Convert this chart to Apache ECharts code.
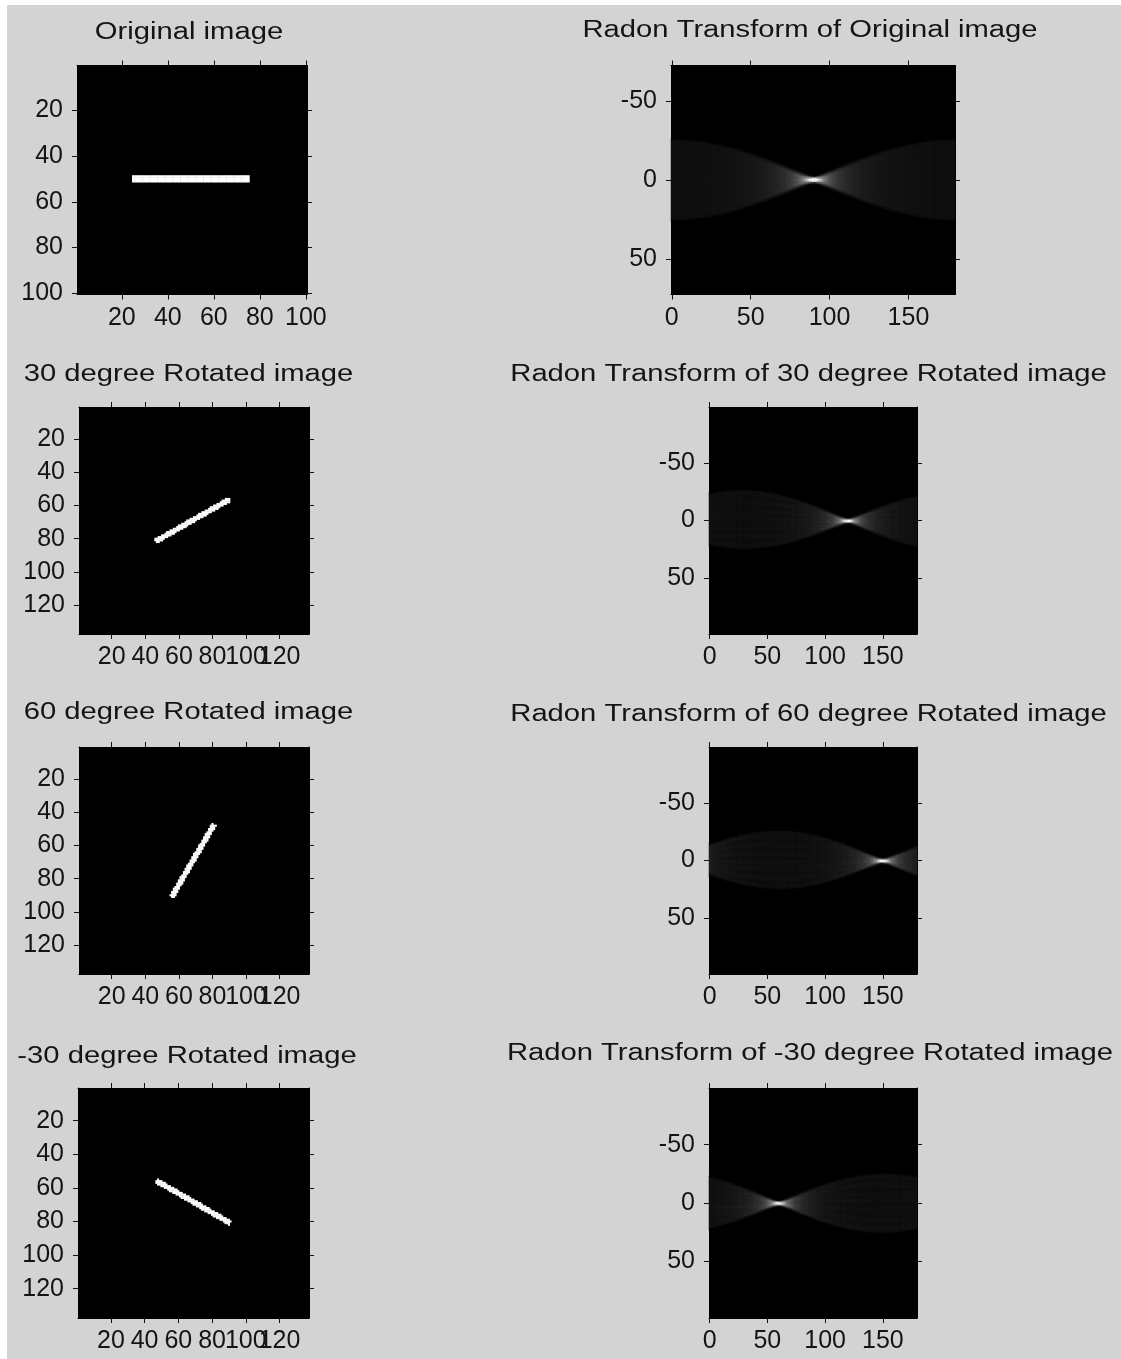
<!DOCTYPE html>
<html>
<head>
<meta charset="utf-8">
<title>Radon Transform of rotated images</title>
<script src="https://cdn.jsdelivr.net/npm/echarts@6/dist/echarts.min.js"></script>
<style>
  html, body { margin: 0; padding: 0; background: #ffffff; }
  #chart { width: 1121px; height: 1359px; }
</style>
</head>
<body>
<div id="chart"></div>
<script>
// ---- Source image: 100 x 100 black field with a 3-pixel white bar ----
const imageSize = 100;
const barRows = [49, 51];          // first / last row of the bar (1-based)
const barCols = [25, 75];          // first / last column of the bar (1-based)
const rotatedSize = 137;           // side of the loosely-cropped rotated image
const rotations = [0, 30, 60, -30];  // counter-clockwise rotation, degrees

// Projection angles of the transform (degrees)
const projectionAngles = [];
for (let t = 0; t < 180; t++) projectionAngles.push(t);

// Tick values
const ticksOriginal = [20, 40, 60, 80, 100];
const ticksRotated = [20, 40, 60, 80, 100, 120];
const ticksTheta = [0, 50, 100, 150];
const ticksOffset = [-50, 0, 50];

// Panel titles, left / right column per row
const leftTitles = ['Original image', '30 degree Rotated image', '60 degree Rotated image', '-30 degree Rotated image'];
const rightTitles = ['Radon Transform of Original image', 'Radon Transform of 30 degree Rotated image',
  'Radon Transform of 60 degree Rotated image', 'Radon Transform of -30 degree Rotated image'];

// ---- image helpers ----
function sourceImage() {
  const img = [];
  for (let r = 1; r <= imageSize; r++) {
    const row = [];
    for (let c = 1; c <= imageSize; c++) {
      row.push(r >= barRows[0] && r <= barRows[1] && c >= barCols[0] && c <= barCols[1] ? 1 : 0);
    }
    img.push(row);
  }
  return img;
}

// nearest-neighbour rotation about the image centre, loose output box
function rotateImage(img, deg) {
  if (deg === 0) return img;
  const n = img.length;
  const out = rotatedSize;
  const a = deg * Math.PI / 180, ca = Math.cos(a), sa = Math.sin(a);
  const cIn = (n + 1) / 2, cOut = (out + 1) / 2;
  const res = [];
  for (let i = 1; i <= out; i++) {
    const row = [];
    for (let j = 1; j <= out; j++) {
      const X = j - cOut, Y = -(i - cOut);
      const xin = X * ca + Y * sa;
      const yin = -X * sa + Y * ca;
      const c = Math.round(cIn + xin), r = Math.round(cIn - yin);
      row.push(r >= 1 && r <= n && c >= 1 && c <= n ? img[r - 1][c - 1] : 0);
    }
    res.push(row);
  }
  return res;
}

function pixelCells(img) {
  const cells = [];
  for (let r = 0; r < img.length; r++)
    for (let c = 0; c < img[r].length; c++)
      if (img[r][c]) cells.push([c + 1, r + 1, img[r][c]]);
  return cells;
}

// parallel-beam projections, each pixel split into four sub-pixels
function radonTransform(img, anglesDeg) {
  const M = img.length, N = img[0].length;
  const xOrigin = Math.max(0, Math.floor((N - 1) / 2));
  const yOrigin = Math.max(0, Math.floor((M - 1) / 2));
  const cM = Math.floor((M + 1) / 2), cN = Math.floor((N + 1) / 2);
  const rLast = Math.ceil(Math.sqrt((M - cM) * (M - cM) + (N - cN) * (N - cN))) + 1;
  const rFirst = -rLast, rSize = 2 * rLast + 1;
  const cells = [];
  let maxVal = 0;
  anglesDeg.forEach(function (deg) {
    const th = deg * Math.PI / 180, co = Math.cos(th), si = Math.sin(th);
    const col = new Float64Array(rSize + 2);
    for (let m = 0; m < M; m++) {
      for (let n = 0; n < N; n++) {
        const v = img[m][n];
        if (!v) continue;
        const x = n - xOrigin, y = yOrigin - m;
        const xs = [(x - 0.25) * co, (x + 0.25) * co];
        const ys = [(y + 0.25) * si, (y - 0.25) * si];
        for (let a = 0; a < 2; a++) for (let b = 0; b < 2; b++) {
          const r = xs[a] + ys[b] - rFirst;
          const r1 = Math.floor(r), d = r - r1;
          col[r1] += 0.25 * v * (1 - d);
          col[r1 + 1] += 0.25 * v * d;
        }
      }
    }
    for (let k = 0; k < rSize; k++) {
      if (col[k] > 1e-9) {
        cells.push([deg, rFirst + k, col[k]]);
        if (col[k] > maxVal) maxVal = col[k];
      }
    }
  });
  return { cells: cells, maxVal: maxVal, rLast: rLast };
}

// ---- layout of the eight axes ----
const rowTops = [65.5, 407, 747, 1088];
const rowHeights = [229, 227, 227, 230];
const leftBox = [{ left: 77, width: 230 }, { left: 79, width: 230 }, { left: 79, width: 230 }, { left: 78, width: 231 }];
const rightBox = [{ left: 671, width: 284 }, { left: 709, width: 208 }, { left: 709, width: 208 }, { left: 709, width: 208 }];
const leftTitlePos = [[189, 33], [188.5, 375], [188.5, 713], [187, 1057]];
const rightTitlePos = [[810, 31], [808.5, 375], [808.5, 715], [810, 1054]];

const tickFont = { fontFamily: 'Liberation Sans, Arial, sans-serif', fontSize: 25, color: '#141414' };

const grids = [], xAxes = [], yAxes = [], series = [], visualMaps = [], graphics = [];

function addGrid(box, top, height, visible) {
  grids.push({ left: box.left, top: top, width: box.width, height: height,
    show: visible, backgroundColor: '#000', borderWidth: 0, containLabel: false, outerBoundsMode: 'none' });
  return grids.length - 1;
}

// framed axis: labelled side plus a mirrored tick-only side; returns index of the labelled one
function addAxisPair(list, kind, gridIndex, range, ticks, labelValues, inverse) {
  const isX = kind === 'x';
  const base = {
    type: 'value', gridIndex: gridIndex, min: range[0], max: range[1], inverse: !!inverse,
    axisLine: { show: true, onZero: false, lineStyle: { color: '#000', width: 1 } },
    axisTick: { show: true, inside: false, length: 5, customValues: ticks, lineStyle: { color: '#111', width: 1 } },
    splitLine: { show: false }
  };
  list.push(Object.assign({}, base, {
    position: isX ? 'bottom' : 'left',
    axisLabel: Object.assign({ show: true, customValues: labelValues, margin: isX ? 11 : 14,
      showMinLabel: true, showMaxLabel: true, hideOverlap: false }, tickFont)
  }));
  const idx = list.length - 1;
  list.push(Object.assign({}, base, {
    position: isX ? 'top' : 'right',
    axisLabel: { show: false, customValues: ticks }
  }));
  return idx;
}

// labels only: a twin bottom axis carrying every other tick label, so packed labels all stay drawn
function addLabelTwin(box, top, height, range, labelValues) {
  const g = addGrid(box, top, height, false);
  xAxes.push({
    type: 'value', gridIndex: g, min: range[0], max: range[1], position: 'bottom',
    axisLine: { show: false, onZero: false }, axisTick: { show: false }, splitLine: { show: false },
    axisLabel: Object.assign({ show: true, customValues: labelValues, margin: 11,
      showMinLabel: true, showMaxLabel: true, hideOverlap: false }, tickFont)
  });
  yAxes.push({ type: 'value', gridIndex: g, show: false, min: 0, max: 1 });
}

function titleText(text, pos) {
  return {
    type: 'text', x: pos[0], y: pos[1], scaleX: 1.27, silent: true,
    style: { text: text, fontFamily: 'Liberation Sans, Arial, sans-serif', fontSize: 23,
      fill: '#141414', align: 'center', verticalAlign: 'middle' }
  };
}

function cellRenderer(fixedFill) {
  return function (params, api) {
    const x = api.value(0), y = api.value(1);
    const a = api.coord([x - 0.5, y - 0.5]);
    const b = api.coord([x + 0.5, y + 0.5]);
    const x0 = Math.min(a[0], b[0]), y0 = Math.min(a[1], b[1]);
    return {
      type: 'rect', silent: true,
      shape: { x: x0 - 0.2, y: y0 - 0.2, width: Math.abs(b[0] - a[0]) + 0.4, height: Math.abs(b[1] - a[1]) + 0.4 },
      style: { fill: fixedFill || api.visual('color') }
    };
  };
}

const src = sourceImage();

rotations.forEach(function (deg, row) {
  const img = rotateImage(src, deg);
  const size = img.length;
  const tr = radonTransform(img, projectionAngles);
  const ticks = size === imageSize ? ticksOriginal : ticksRotated;
  const packed = size !== imageSize;
  const imgRange = [0.5, size + 0.5];

  // left: the image
  const gL = addGrid(leftBox[row], rowTops[row], rowHeights[row], true);
  const xL = addAxisPair(xAxes, 'x', gL, imgRange, ticks,
    packed ? ticks.filter(function (v, i) { return i % 2 === 0; }) : ticks, false);
  const yL = addAxisPair(yAxes, 'y', gL, imgRange, ticks, ticks, true);
  series.push({
    type: 'custom', name: leftTitles[row], xAxisIndex: xL, yAxisIndex: yL,
    data: pixelCells(img), encode: { x: 0, y: 1 }, silent: true, animation: false,
    progressive: 0, progressiveThreshold: 1e9, z: 5,
    renderItem: cellRenderer('#ffffff')
  });
  if (packed) {
    addLabelTwin(leftBox[row], rowTops[row], rowHeights[row], imgRange,
      ticks.filter(function (v, i) { return i % 2 === 1; }));
  }

  // right: its transform
  const gR = addGrid(rightBox[row], rowTops[row], rowHeights[row], true);
  const xR = addAxisPair(xAxes, 'x', gR, [-0.5, 179.5], ticksTheta, ticksTheta, false);
  const yR = addAxisPair(yAxes, 'y', gR, [-tr.rLast - 0.5, tr.rLast + 0.5], ticksOffset, ticksOffset, true);
  visualMaps.push({ type: 'continuous', show: false, seriesIndex: series.length, dimension: 2,
    min: 0, max: tr.maxVal, inRange: { color: ['#000000', '#ffffff'] } });
  series.push({
    type: 'custom', name: rightTitles[row], xAxisIndex: xR, yAxisIndex: yR,
    data: tr.cells, encode: { x: 0, y: 1 }, silent: true, animation: false,
    progressive: 0, progressiveThreshold: 1e9, z: 5,
    renderItem: cellRenderer(null)
  });

  graphics.push(titleText(leftTitles[row], leftTitlePos[row]));
  graphics.push(titleText(rightTitles[row], rightTitlePos[row]));
});

// figure face, inset from the white page edge
graphics.unshift({ type: 'rect', silent: true, z: -100,
  shape: { x: 7, y: 5, width: 1114, height: 1354 }, style: { fill: '#d3d3d3' } });

const chart = echarts.init(document.getElementById('chart'), null, { renderer: 'canvas' });
chart.setOption({
  backgroundColor: '#ffffff',
  animation: false,
  hoverLayerThreshold: 1e9,
  grid: grids,
  xAxis: xAxes,
  yAxis: yAxes,
  visualMap: visualMaps,
  series: series,
  graphic: graphics
});
</script>
</body>
</html>
